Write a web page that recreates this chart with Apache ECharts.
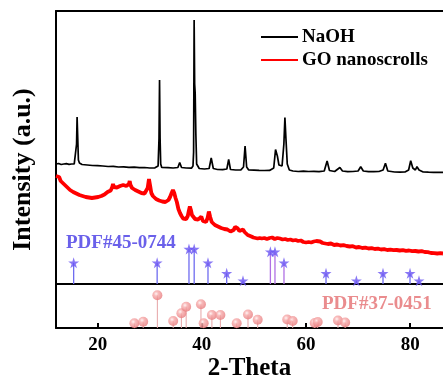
<!DOCTYPE html>
<html>
<head>
<meta charset="utf-8">
<script src="https://cdn.jsdelivr.net/npm/echarts@6/dist/echarts.min.js"></script>
<style>
  html, body { margin: 0; padding: 0; background: #fff; }
  #chart { width: 443px; height: 385px; }
</style>
</head>
<body>
<div id="chart"></div>
<script>
// 2-theta (deg) / intensity (offset units of the upper panel)
const naohTrace = [
  [12.0, 120], [12.5, 120.5], [13.0, 119.5], [13.5, 120], [14.0, 120.3], [14.5, 119.7],
  [15.0, 120], [15.5, 120.2], [15.8, 121], [15.95, 140], [16.05, 167], [16.15, 150],
  [16.3, 124], [16.5, 121], [17.0, 119.5], [18.0, 119], [19.0, 118.5], [20.0, 118.3],
  [21.0, 118], [22.0, 117.5], [23.0, 117.6], [24.0, 117], [25.0, 117.2], [26.0, 116.6],
  [27.0, 116.8], [28.0, 116.3], [29.0, 116.5], [30.0, 116], [31.0, 116.2], [31.6, 118],
  [31.78, 146], [31.88, 204], [31.98, 146], [32.1, 120], [32.3, 116.5], [33.5, 116.3],
  [34.5, 116], [35.4, 116.5], [35.75, 121.5], [36.1, 116.5], [37.0, 116], [38.0, 115.8],
  [38.3, 118], [38.42, 132], [38.52, 264], [38.62, 200], [38.72, 191], [38.85, 150],
  [39.0, 120], [39.5, 115.5], [40.5, 115], [41.4, 115.5], [41.8, 126], [42.2, 115.5],
  [43.0, 114.5], [44.0, 114.3], [44.8, 115], [45.15, 124.5], [45.5, 114.5], [46.5, 114],
  [47.5, 114.2], [48.0, 117], [48.3, 138], [48.6, 117], [49.0, 114], [50.0, 113.8],
  [51.0, 113.6], [52.0, 113.5], [53.0, 113.6], [53.8, 116], [54.15, 134.5], [54.5, 128],
  [54.8, 119], [55.4, 118], [55.75, 140], [55.95, 166.5], [56.15, 145], [56.4, 120],
  [56.8, 114], [57.5, 113], [58.5, 112.5], [59.5, 112.8], [60.5, 112.5], [61.5, 112.6],
  [62.5, 112.4], [63.5, 113], [64.05, 123], [64.5, 113.5], [65.5, 112.5], [66.5, 116.5],
  [67.0, 113], [68.0, 112.3], [69.0, 112.5], [70.0, 113], [70.5, 117.3], [71.0, 113],
  [72.0, 112.4], [73.0, 112.3], [74.0, 112.5], [74.8, 114], [75.25, 120.8], [75.7, 113],
  [77.0, 112], [78.0, 111.8], [79.0, 112], [79.7, 114], [80.1, 123.3], [80.5, 116],
  [81.0, 114], [81.3, 117.3], [81.7, 114], [82.5, 112], [83.5, 111.8], [84.5, 111.7],
  [85.5, 111.6], [86.3, 111.7]
];

const goTrace = [
  [12.0, 108], [12.3, 106], [12.6, 107], [12.9, 103], [13.2, 102], [13.5, 100], [13.8, 99],
  [14.1, 97], [14.4, 96.5], [14.7, 94], [15.0, 94], [15.3, 92], [15.6, 92.5], [15.9, 90.5],
  [16.2, 90], [16.5, 89], [16.8, 89.5], [17.1, 88], [17.4, 88.5], [17.7, 87], [18.0, 87.5],
  [18.3, 86.5], [18.6, 87.5], [18.9, 86], [19.2, 87], [19.5, 86.5], [19.8, 87.5], [20.1, 87],
  [20.4, 88.5], [20.7, 88], [21.0, 90], [21.3, 89.5], [21.6, 91.5], [21.9, 92], [22.2, 94],
  [22.5, 93.5], [22.8, 97], [22.95, 100], [23.1, 97], [23.4, 95], [23.7, 96.5], [24.0, 95.5],
  [24.3, 98], [24.6, 97], [24.9, 99], [25.2, 97], [25.5, 98], [25.8, 97.5], [26.0, 100],
  [26.15, 103], [26.3, 99], [26.6, 96], [26.9, 95.5], [27.2, 94], [27.5, 93], [27.8, 92.5],
  [28.1, 92], [28.4, 91], [28.7, 91.5], [29.0, 90.5], [29.3, 92], [29.6, 96], [29.85, 105],
  [30.05, 99], [30.3, 91], [30.6, 88], [30.9, 86], [31.2, 85], [31.5, 84], [31.8, 83.5],
  [32.1, 82], [32.4, 82.5], [32.7, 81], [33.0, 82], [33.3, 82.5], [33.6, 84], [33.9, 87],
  [34.2, 91], [34.45, 94], [34.7, 91], [34.95, 86], [35.2, 82], [35.5, 75], [35.8, 71],
  [36.1, 68], [36.4, 65.5], [36.7, 64], [37.0, 65], [37.3, 68], [37.5, 73], [37.7, 77.5],
  [37.9, 74], [38.1, 69], [38.4, 67], [38.7, 65], [39.0, 64], [39.3, 64.5], [39.6, 66],
  [39.9, 67.5], [40.2, 63], [40.5, 61], [40.8, 62], [41.1, 66], [41.35, 72.5], [41.6, 67],
  [41.9, 62], [42.2, 60.5], [42.5, 59], [42.8, 59.5], [43.1, 57.5], [43.4, 57], [43.7, 56],
  [44.0, 56.5], [44.3, 55], [44.6, 54], [44.9, 54.5], [45.2, 53], [45.5, 52.5], [45.8, 52],
  [46.1, 54], [46.4, 57], [46.65, 59], [46.9, 55.5], [47.2, 53], [47.5, 52.5], [47.9, 54.5],
  [48.2, 52], [48.5, 50], [48.8, 49], [49.1, 48], [49.5, 47.5], [49.9, 46.5], [50.3, 46],
  [50.7, 45.5], [51.1, 46], [51.5, 45.5], [52.0, 46], [52.5, 45], [53.0, 46], [53.5, 46.5],
  [54.0, 45], [54.5, 46], [55.0, 45.5], [55.5, 44.5], [56.0, 45], [56.5, 44], [57.0, 44.5],
  [57.5, 43.5], [58.0, 44], [58.5, 43], [59.0, 43.5], [59.5, 42], [60.0, 41.5], [60.5, 42],
  [61.0, 41.5], [61.5, 42.5], [62.0, 43], [62.3, 43.8], [62.7, 42.5], [63.2, 41], [63.7, 40.5],
  [64.2, 40], [64.8, 40.5], [65.4, 39], [66.0, 39.5], [66.6, 38.5], [67.2, 38.8], [67.8, 38],
  [68.4, 37.5], [69.0, 37.8], [69.6, 36.5], [70.2, 37], [70.8, 36], [71.4, 36.3], [72.0, 35.5],
  [72.6, 35.8], [73.2, 35], [73.8, 35.3], [74.4, 34.5], [75.0, 34.8], [75.6, 34], [76.2, 34.3],
  [76.8, 33.8], [77.4, 34], [78.0, 33.5], [78.6, 33.8], [79.2, 33.2], [79.8, 33.5], [80.4, 32.8],
  [81.0, 33], [81.6, 32.5], [82.2, 32.8], [82.8, 32], [83.4, 31.8], [84.0, 31], [84.6, 30.8],
  [85.2, 30.5], [85.8, 30.8], [86.3, 30.5]
];

// reference card PDF#45-0744 (stars)
const pdf45Angles = [15.39, 31.42, 37.53, 38.53, 41.18, 44.77, 47.9, 53.16, 54.04, 55.77, 63.84, 69.67, 74.78, 79.97, 81.69];
const pdf45Heights = [21.3, 21.3, 35, 35, 21.3, 10.7, 3.3, 32.3, 32.3, 21.3, 10.7, 3.3, 10.7, 10.7, 3.3];

// reference card PDF#37-0451 (balls)
const pdf37Angles = [27.05, 28.74, 31.46, 34.5, 36.07, 36.99, 39.83, 40.35, 41.93, 43.56, 46.69, 48.86, 50.72, 56.39, 57.44, 61.67, 62.24, 66.14, 67.52];
const pdf37Heights = [4.7, 6.3, 32.7, 7, 14.7, 21.3, 23.7, 4.7, 13, 13, 4.7, 13.5, 8.3, 8.5, 7, 5, 6, 7.5, 5.5];

const xTicks = [20, 40, 60, 80];

const FONT = '"Liberation Serif", "Times New Roman", serif';
const STAR = 'path://M50,0 L61,35 L98,35 L68,57 L79,91 L50,70 L21,91 L32,57 L2,35 L39,35 Z';
const X_MIN = 12, X_MAX = 86.3;

const chart = echarts.init(document.getElementById('chart'));

const lineOnly = (grid, pos) => ({
  type: 'value', gridIndex: grid, position: pos, min: X_MIN, max: X_MAX,
  axisLine: { show: true, onZero: false, lineStyle: { color: '#000', width: 2 } },
  axisTick: { show: false }, axisLabel: { show: false }, splitLine: { show: false }
});

const option = {
  animation: false,
  grid: [
    { left: 56, top: 11, right: 0, height: 273 },
    { left: 56, top: 284, right: 0, height: 44 },
    { left: 56, top: 11, right: 0, height: 317 }
  ],
  legend: {
    orient: 'vertical', left: 261, top: 27, padding: 0, itemGap: 3,
    icon: 'rect', itemWidth: 37, itemHeight: 2,
    textStyle: { fontFamily: FONT, fontWeight: 'bold', fontSize: 19, color: '#000', lineHeight: 20, padding: [0, 0, 0, -1] },
    data: ['NaOH', 'GO nanoscrolls']
  },
  xAxis: [
    lineOnly(0, 'bottom'),
    lineOnly(0, 'top'),
    {
      type: 'value', gridIndex: 1, position: 'bottom', min: X_MIN, max: X_MAX,
      name: '2-Theta', nameLocation: 'middle', nameGap: 27,
      nameTextStyle: { fontFamily: FONT, fontWeight: 'bold', fontSize: 25, color: '#000' },
      axisLine: { show: true, onZero: false, lineStyle: { color: '#000', width: 2 } },
      axisTick: { show: true, inside: true, length: 5, customValues: xTicks, lineStyle: { color: '#000', width: 2 } },
      axisLabel: { show: true, margin: 8, customValues: xTicks, fontFamily: FONT, fontWeight: 'bold', fontSize: 19, color: '#000' },
      splitLine: { show: false }
    },
    { type: 'value', gridIndex: 2, min: X_MIN, max: X_MAX, show: false }
  ],
  yAxis: [
    { type: 'value', gridIndex: 0, min: 0, max: 273, show: false },
    { type: 'value', gridIndex: 1, min: 0, max: 44, show: false },
    {
      type: 'value', gridIndex: 2, min: 0, max: 1,
      name: 'Intensity (a.u.)', nameLocation: 'middle', nameGap: 20, nameRotate: 90,
      nameTextStyle: { fontFamily: FONT, fontWeight: 'bold', fontSize: 26, color: '#000' },
      axisLine: { show: true, lineStyle: { color: '#000', width: 2 } },
      axisTick: { show: false }, axisLabel: { show: false }, splitLine: { show: false }
    }
  ],
  graphic: [
    { type: 'text', style: { x: 66, y: 243, text: 'PDF#45-0744', verticalAlign: 'middle',
      font: 'bold 19px ' + FONT, fill: '#6a60ea' } },
    { type: 'text', style: { x: 322, y: 304, text: 'PDF#37-0451', verticalAlign: 'middle',
      font: 'bold 19px ' + FONT, fill: '#ea8c8e' } }
  ],
  series: [
    {
      name: 'GO nanoscrolls', type: 'line', xAxisIndex: 0, yAxisIndex: 0, data: goTrace,
      symbol: 'none', z: 3, color: '#ff0000', lineStyle: { color: '#ff0000', width: 3.8 }
    },
    {
      name: 'NaOH', type: 'line', xAxisIndex: 0, yAxisIndex: 0, data: naohTrace,
      symbol: 'none', z: 4, color: '#000', lineStyle: { color: '#000', width: 1.7 }
    },
    {
      type: 'bar', xAxisIndex: 0, yAxisIndex: 0, barWidth: 1.3, z: 2,
      data: pdf45Angles.map((a, i) => ({
        value: [a, pdf45Heights[i]],
        itemStyle: { color: a > 52 && a < 57 ? '#b070e4' : '#6f6cf0' }
      }))
    },
    {
      type: 'scatter', xAxisIndex: 0, yAxisIndex: 0, symbol: STAR, symbolSize: 11, z: 5,
      itemStyle: { color: '#6a55f2' },
      data: pdf45Angles.map((a, i) => [a, pdf45Heights[i]])
    },
    {
      type: 'bar', xAxisIndex: 2, yAxisIndex: 1, barWidth: 1, z: 2,
      itemStyle: { color: '#e6a4a6' },
      data: pdf37Angles.map((a, i) => [a, pdf37Heights[i]])
    },
    {
      type: 'scatter', xAxisIndex: 2, yAxisIndex: 1, symbol: 'circle', symbolSize: 10, z: 5,
      itemStyle: {
        color: new echarts.graphic.RadialGradient(0.38, 0.35, 0.65, [
          { offset: 0, color: '#fff0f0' },
          { offset: 0.35, color: '#f6aaaa' },
          { offset: 1, color: '#e87c7e' }
        ])
      },
      data: pdf37Angles.map((a, i) => [a, pdf37Heights[i]])
    }
  ]
};

chart.setOption(option);
</script>
</body>
</html>
